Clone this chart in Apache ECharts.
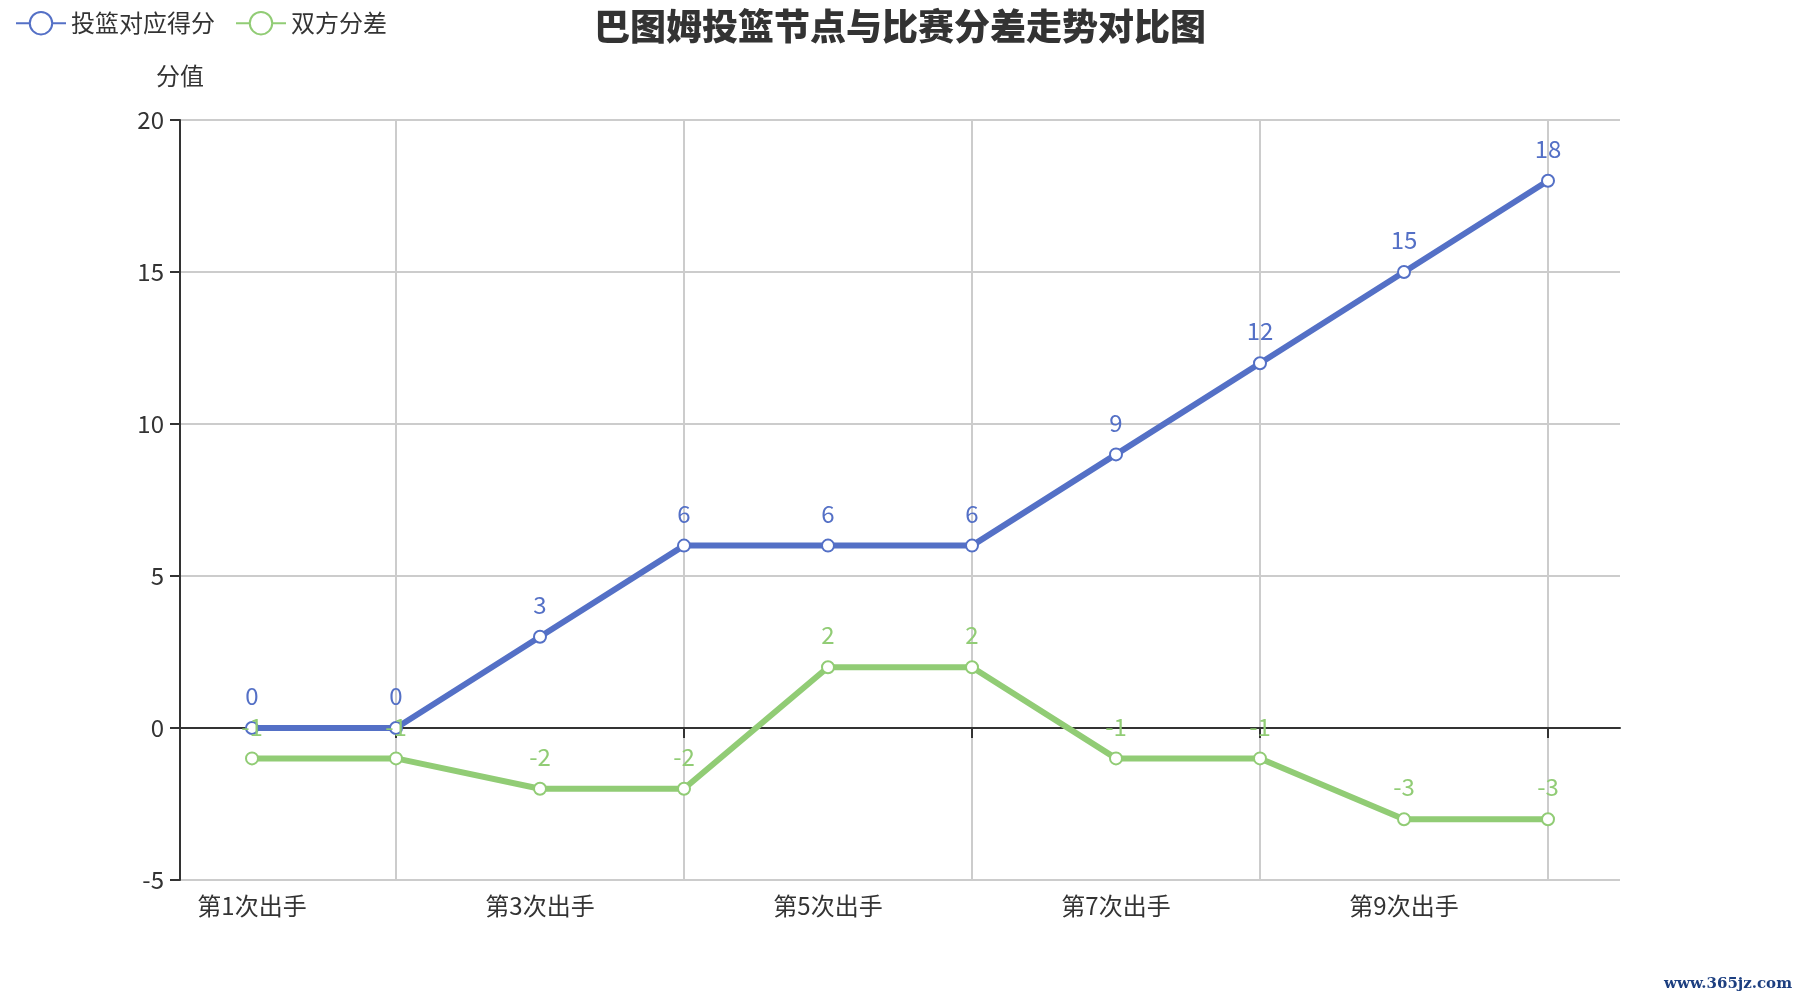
<!DOCTYPE html>
<html>
<head>
<meta charset="utf-8">
<script src="https://cdn.jsdelivr.net/npm/echarts@6/dist/echarts.min.js"></script>
<style>
html,body{margin:0;padding:0;background:#fff;}
#main{width:1800px;height:1000px;}
</style>
</head>
<body>
<div id="main"></div>
<script>
const categories = ['第1次出手','第2次出手','第3次出手','第4次出手','第5次出手','第6次出手','第7次出手','第8次出手','第9次出手','第10次出手'];
const shotScores = [0, 0, 3, 6, 6, 6, 9, 12, 15, 18];
const scoreDiffs = [-1, -1, -2, -2, 2, 2, -1, -1, -3, -3];
const seriesNames = ['投篮对应得分', '双方分差'];
const seriesColors = ['#5470c6', '#91cc75'];
const titleText = '巴图姆投篮节点与比赛分差走势对比图';
const yAxisName = '分值';
const watermarkText = 'www.365jz.com';

const FONT = '"Noto Sans CJK SC", "Noto Sans", sans-serif';
const oddIdx = function (i) { return i % 2 === 1; };

const chart = echarts.init(document.getElementById('main'));
chart.setOption({
  animation: false,
  backgroundColor: '#fff',
  color: seriesColors,
  textStyle: { fontFamily: FONT },
  title: {
    text: titleText,
    left: 'center',
    top: 3,
    textStyle: { fontSize: 36, fontWeight: 900, color: '#333', fontFamily: FONT }
  },
  legend: {
    left: 10,
    top: 6,
    itemWidth: 50,
    itemHeight: 28,
    itemGap: 20,
    textStyle: { fontSize: 24, color: '#333', fontFamily: FONT },
    data: seriesNames
  },
  grid: { left: 180, right: 180, top: 120, bottom: 120 },
  xAxis: {
    type: 'category',
    data: categories,
    boundaryGap: true,
    axisLine: { show: true, onZero: true, lineStyle: { color: '#333', width: 2 } },
    axisTick: { show: true, alignWithLabel: true, interval: oddIdx, length: 10, lineStyle: { color: '#333', width: 2 } },
    axisLabel: { interval: 1, fontSize: 24, color: '#333', margin: 14, fontFamily: FONT },
    splitLine: { show: true, alignWithLabel: true, interval: oddIdx, lineStyle: { color: '#ccc', width: 2 } }
  },
  yAxis: {
    type: 'value',
    min: -5,
    max: 20,
    interval: 5,
    name: yAxisName,
    nameGap: 32,
    nameTextStyle: { fontSize: 24, color: '#333', fontFamily: FONT },
    axisLine: { show: true, lineStyle: { color: '#333', width: 2 } },
    axisTick: { show: true, length: 10, lineStyle: { color: '#333', width: 2 } },
    axisLabel: { fontSize: 24, color: '#333', margin: 16, fontFamily: FONT },
    splitLine: { show: true, lineStyle: { color: '#ccc', width: 2 } }
  },
  series: [
    {
      name: seriesNames[0],
      type: 'line',
      data: shotScores,
      symbol: 'emptyCircle',
      symbolSize: 12,
      lineStyle: { width: 6 },
      itemStyle: { borderWidth: 2 },
      label: { show: true, position: 'top', distance: 13, fontSize: 24, color: seriesColors[0], fontFamily: FONT }
    },
    {
      name: seriesNames[1],
      type: 'line',
      data: scoreDiffs,
      symbol: 'emptyCircle',
      symbolSize: 12,
      lineStyle: { width: 6 },
      itemStyle: { borderWidth: 2 },
      label: { show: true, position: 'top', distance: 13, fontSize: 24, color: seriesColors[1], fontFamily: FONT }
    }
  ],
  graphic: [
    {
      type: 'text',
      right: 8,
      bottom: 8,
      style: {
        text: watermarkText,
        fontSize: 15,
        fontWeight: 'bold',
        fontFamily: '"DejaVu Serif", serif',
        fill: '#1d3f80'
      }
    }
  ]
});
</script>
</body>
</html>
